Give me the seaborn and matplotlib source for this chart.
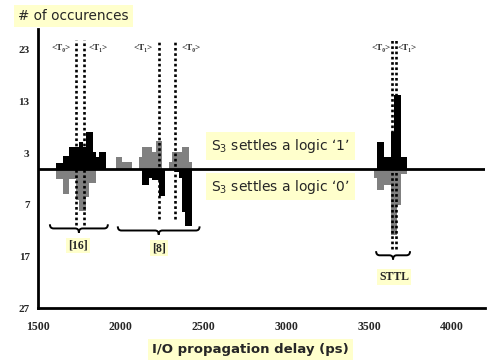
import matplotlib
matplotlib.use("Agg")
import matplotlib.pyplot as plt
import seaborn as sns
import pandas as pd
from matplotlib.path import Path
from matplotlib.patches import PathPatch

# ---------------- data ----------------
black_delay = [1620, 1640, 1660, 1680, 1700, 1720, 1740, 1760, 1780, 1800, 1820, 1840, 1860, 1880, 1900,
               2140, 2160, 2180, 2200, 2220, 2240, 2260, 2340, 2360, 2380, 2400, 2420,
               3560, 3580, 3600, 3620, 3640, 3660, 3680, 3700, 3720]
black_count = [1, 1, 2.4, 2.4, 4.1, 4.1, 4.1, 5.2, 4.1, 7.1, 7.1, 3.2, 2.3, 3.2, 3.2,
               -3.1, -3.1, -1.9, -2.3, -2.3, -5.3, -5.3, -0.7, -1.9, -8.5, -11.2, -11.2,
               5.2, 5.2, 2.3, 2.3, 7.1, 14.2, 14.2, 2.3, 2.3]

gray_delay = [1620, 1640, 1660, 1680, 1700, 1720, 1740, 1760, 1780, 1800, 1820, 1840,
              1980, 2000, 2020, 2040, 2060, 2120, 2140, 2160, 2180, 2200, 2220, 2240,
              2300, 2320, 2340, 2360, 2380, 2400, 2420,
              3540, 3560, 3580, 3600, 3620, 3640, 3660, 3680, 3700, 3720]
gray_count = [-2, -2, -5, -5, -2, -2, -6, -8.2, -8.2, -5.5, -2.8, -2.8,
              2.3, 2.3, 1.3, 1.3, 1.3, 2.3, 4.2, 4.2, 4.2, 3.2, 5.3, 5.3,
              1.3, 3.2, 3.2, 3.2, 4.2, 4.2, 1.3,
              -1.9, -4.1, -4.1, -3.2, -3.2, -12.9, -12.9, -7.1, -1.1, -1.1]

y_ticks = [-27, -17, -7, 3, 13, 23]
y_tick_labels = ["27", "17", "7", "3", "13", "23"]
x_ticks = [1500, 2000, 2500, 3000, 3500, 4000]

t_line_x = [1729, 1777, 2229, 2330, 3640, 3664]
t_line_bottom = [-11, -11, -9.7, -9.7, -15.5, -15.5]
t_line_top = 24.8
t_labels = ["<T\u2080>", "<T\u2081>", "<T\u2081>", "<T\u2080>", "<T\u2080>", "<T\u2081>"]
t_label_x = [1639, 1860, 2133, 2422, 3570, 3726]
t_label_y = 23.4

brace_x0 = [1572, 1982, 3542]
brace_x1 = [1922, 2476, 3747]
brace_y = [-11.6, -12.0, -16.8]
brace_labels = ["[16]", "[8]", "STTL"]
brace_label_x = [1741, 2230, 3651]
brace_label_y = [-14.9, -15.4, -21.0]

BLACK = "#000000"
GRAY = "#808080"
YELLOW = "#FFFFCC"

# ---------------- figure ----------------
sns.set_style("white")
plt.rcParams["font.family"] = ["DejaVu Sans"]

fig = plt.figure(figsize=(4.87, 3.63), dpi=100)
ax = fig.add_axes([0.078, 0.1515, 0.918, 0.7686])

df_gray = pd.DataFrame({"delay": gray_delay, "count": gray_count})
df_black = pd.DataFrame({"delay": black_delay, "count": black_count})

sns.barplot(data=df_gray, x="delay", y="count", native_scale=True, width=1.0,
            color=GRAY, saturation=1, errorbar=None, linewidth=0, ax=ax)
sns.barplot(data=df_black, x="delay", y="count", native_scale=True, width=1.0,
            color=BLACK, saturation=1, errorbar=None, linewidth=0, ax=ax)

ax.axhline(0, color="black", lw=2, zorder=5)

ax.set_xlim(1500, 4200)
ax.set_ylim(-27, 27)
ax.set_xticks(x_ticks)
ax.set_xticklabels([str(v) for v in x_ticks])
ax.set_yticks(y_ticks)
ax.set_yticklabels(y_tick_labels)
ax.set_xlabel("")
ax.set_ylabel("")

for s in ["top", "right"]:
    ax.spines[s].set_visible(False)
for s in ["left", "bottom"]:
    ax.spines[s].set_linewidth(2)
    ax.spines[s].set_color("black")

ax.tick_params(axis="both", direction="out", length=3, width=1.5, color="black")
ax.tick_params(axis="x", pad=6)
ax.tick_params(axis="y", pad=3)
for lab in ax.get_xticklabels():
    lab.set_family(["Liberation Serif", "DejaVu Serif"])
    lab.set_fontweight("bold")
    lab.set_fontsize(8.5)
for lab in ax.get_yticklabels():
    lab.set_family(["Liberation Serif", "DejaVu Serif"])
    lab.set_fontweight("bold")
    lab.set_fontsize(8)

# dotted mean lines
ax.vlines(t_line_x, t_line_bottom, t_line_top, colors="black", linestyles=(0, (1, 1)),
          lw=1.9, zorder=6)
for lab, x in zip(t_labels, t_label_x):
    ax.text(x, t_label_y, lab, ha="center", va="center", fontsize=6.5,
            family=["Liberation Serif", "DejaVu Serif"], fontweight="bold", zorder=7)

# braces
def draw_brace(x0, x1, y, h=1.6, d=22):
    xm = (x0 + x1) / 2
    verts = [(x0, y + h / 2), (x0, y), (x0 + d, y),
             (xm - d, y),
             (xm, y), (xm, y - h / 2),
             (xm, y), (xm + d, y),
             (x1 - d, y),
             (x1, y), (x1, y + h / 2)]
    codes = [Path.MOVETO, Path.CURVE3, Path.CURVE3,
             Path.LINETO,
             Path.CURVE3, Path.CURVE3,
             Path.CURVE3, Path.CURVE3,
             Path.LINETO,
             Path.CURVE3, Path.CURVE3]
    ax.add_patch(PathPatch(Path(verts, codes), fill=False, lw=1.4, ec="black", zorder=6))

for x0, x1, y in zip(brace_x0, brace_x1, brace_y):
    draw_brace(x0, x1, y)

for lab, x, y in zip(brace_labels, brace_label_x, brace_label_y):
    ax.text(x, y, lab, ha="center", va="center", fontsize=8.5,
            family=["Liberation Serif", "DejaVu Serif"], fontweight="bold",
            bbox=dict(boxstyle="square,pad=0.15", fc=YELLOW, ec="none"), zorder=7)

# annotation boxes
fig.text(0.151, 0.957, "# of occurences", ha="center", va="center", fontsize=9.8,
         bbox=dict(boxstyle="square,pad=0.3", fc=YELLOW, ec="none"))
fig.text(0.576, 0.598, "S$_3$ settles a logic \u20181\u2019", ha="center", va="center",
         fontsize=10, bbox=dict(boxstyle="square,pad=0.35", fc=YELLOW, ec="none"))
fig.text(0.576, 0.486, "S$_3$ settles a logic \u20180\u2019", ha="center", va="center",
         fontsize=10, bbox=dict(boxstyle="square,pad=0.35", fc=YELLOW, ec="none"))
fig.text(0.515, 0.036, "I/O propagation delay (ps)", ha="center", va="center",
         fontsize=9.5, fontweight="bold",
         bbox=dict(boxstyle="square,pad=0.3", fc=YELLOW, ec="none"))

fig.savefig("out.png", dpi=100)
